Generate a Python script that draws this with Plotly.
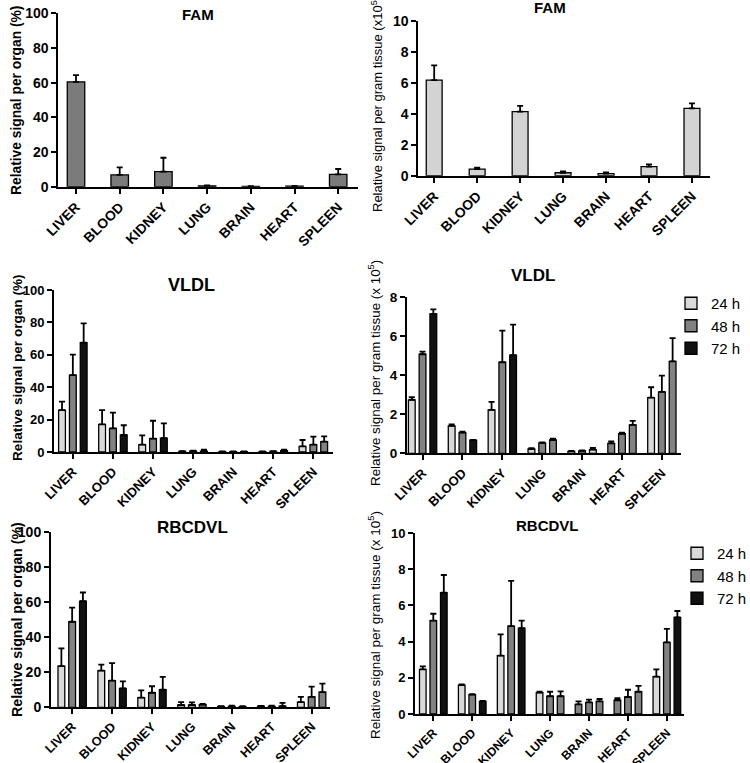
import plotly.graph_objects as go

# ---------------- data ----------------
organs = ["LIVER", "BLOOD", "KIDNEY", "LUNG", "BRAIN", "HEART", "SPLEEN"]
times = ["24 h", "48 h", "72 h"]

fam_organ = [60.5, 6.8, 8.7, 0.5, 0.2, 0.3, 7.1]
fam_organ_sd = [3.9, 4.4, 8.0, 0.3, 0.1, 0.1, 3.1]
fam_gram = [6.17, 0.43, 4.13, 0.19, 0.13, 0.58, 4.34]
fam_gram_sd = [0.95, 0.09, 0.37, 0.09, 0.08, 0.15, 0.33]

vldl_organ_24 = [25.9, 17.1, 4.5, 0.4, 0.2, 0.2, 3.5]
vldl_organ_24_sd = [5.2, 8.8, 5.8, 0.2, 0.1, 0.1, 3.9]
vldl_organ_48 = [47.5, 14.6, 8.2, 0.6, 0.2, 0.4, 4.5]
vldl_organ_48_sd = [12.6, 9.7, 11.1, 0.3, 0.1, 0.2, 5.0]
vldl_organ_72 = [67.5, 10.5, 8.6, 0.5, 0.2, 0.8, 6.4]
vldl_organ_72_sd = [11.9, 6.0, 9.1, 1.0, 0.1, 0.6, 3.3]

vldl_gram_24 = [2.73, 1.40, 2.22, 0.22, 0.10, 0.51, 2.85]
vldl_gram_24_sd = [0.14, 0.08, 0.41, 0.04, 0.02, 0.10, 0.53]
vldl_gram_48 = [5.07, 1.06, 4.66, 0.53, 0.12, 1.00, 3.14]
vldl_gram_48_sd = [0.13, 0.05, 1.62, 0.03, 0.03, 0.06, 0.84]
vldl_gram_72 = [7.13, 0.67, 5.03, 0.68, 0.19, 1.45, 4.71]
vldl_gram_72_sd = [0.24, 0.02, 1.56, 0.07, 0.08, 0.21, 1.18]

rbc_organ_24 = [23.5, 20.9, 5.5, 1.3, 0.5, 0.6, 3.0]
rbc_organ_24_sd = [10.1, 3.4, 4.2, 1.7, 0.2, 0.2, 2.9]
rbc_organ_48 = [48.8, 15.2, 8.3, 1.3, 0.5, 0.5, 5.9]
rbc_organ_48_sd = [8.1, 10.0, 3.7, 1.5, 0.5, 0.5, 5.9]
rbc_organ_72 = [60.5, 10.8, 10.1, 1.5, 0.4, 0.7, 8.7]
rbc_organ_72_sd = [5.0, 4.0, 7.2, 0.4, 0.2, 1.8, 4.8]

rbc_gram_24 = [2.47, 1.60, 3.22, 1.18, 0.53, 0.76, 2.06]
rbc_gram_24_sd = [0.16, 0.04, 1.18, 0.05, 0.17, 0.11, 0.41]
rbc_gram_48 = [5.16, 1.07, 4.86, 0.98, 0.64, 0.94, 3.96]
rbc_gram_48_sd = [0.38, 0.03, 2.49, 0.25, 0.15, 0.40, 0.74]
rbc_gram_72 = [6.70, 0.70, 4.75, 0.98, 0.70, 1.23, 5.34]
rbc_gram_72_sd = [0.98, 0.02, 0.41, 0.27, 0.13, 0.32, 0.35]

# ---------------- styles ----------------
L = "#d9d9d9"
G = "#828282"
K = "#111111"
FONT = "Liberation Sans, Arial, sans-serif"

W, H = 750, 763


def px(x):
    return x / W


def py(y):
    return 1 - y / H


fig = go.Figure()


def add_bar(xa, ya, y, sd, color, center, width, name=None, legend=None):
    fig.add_trace(go.Bar(
        x=organs, y=y, xaxis=xa, yaxis=ya,
        width=width, offset=center - width / 2,
        marker=dict(color=color, line=dict(color="black", width=1.3)),
        error_y=dict(type="data", array=sd, arrayminus=[0] * len(sd), symmetric=False,
                     color="black", thickness=1.8, width=3),
        name=name, showlegend=legend is not None,
        legend=legend if legend else "legend",
    ))


# FAM panels
add_bar("x", "y", fam_organ, fam_organ_sd, ["#7b7b7b"] * 7, 0, 0.40)
add_bar("x2", "y2", fam_gram, fam_gram_sd, ["#d3d3d3"] * 7, 0, 0.37)

pitch, bw = 0.27, 0.17
groups = [
    ("x3", "y3", [vldl_organ_24, vldl_organ_48, vldl_organ_72],
     [vldl_organ_24_sd, vldl_organ_48_sd, vldl_organ_72_sd],
     [[L] * 7, [G] * 7, [K, K, K, G, G, G, G]], None),
    ("x4", "y4", [vldl_gram_24, vldl_gram_48, vldl_gram_72],
     [vldl_gram_24_sd, vldl_gram_48_sd, vldl_gram_72_sd],
     [[L, L, L, L, L, G, L], [G] * 7, [K, K, K, G, L, G, G]], "legend"),
    ("x5", "y5", [rbc_organ_24, rbc_organ_48, rbc_organ_72],
     [rbc_organ_24_sd, rbc_organ_48_sd, rbc_organ_72_sd],
     [[L, L, L, L, G, G, L], [G, G, G, L, G, G, G], [K, K, K, G, K, G, G]], None),
    ("x6", "y6", [rbc_gram_24, rbc_gram_48, rbc_gram_72],
     [rbc_gram_24_sd, rbc_gram_48_sd, rbc_gram_72_sd],
     [[L, L, L, L, G, G, L], [G] * 7, [K, K, K, G, G, G, K]], "legend2"),
]
for xa, ya, ys, sds, cols, leg in groups:
    for i in range(3):
        add_bar(xa, ya, ys[i], sds[i], cols[i], (i - 1) * pitch, bw,
                name=times[i], legend=leg)

# ---------------- axes ----------------
# (x0px, x1px, ybottom px, ytop px, xrange, yrange, dtick, ytickfs, xtickfs)
panels = [
    (58.3, 358.3, 186.7, 13.3, [-0.405, 6.46], [0, 100], 20, 14, 13.8),
    (418.3, 710, 175.7, 20.7, [-0.37, 6.42], [0, 10], 2, 14, 13.9),
    (54, 333, 452, 290, [-0.47, 6.49], [0, 100], 20, 13, 13.1),
    (407, 681, 453.3, 297, [-0.39, 6.48], [0, 8], 2, 13.5, 13),
    (51, 330, 707.3, 532, [-0.53, 6.46], [0, 100], 20, 14, 12.6),
    (415, 684, 714, 533, [-0.47, 6.44], [0, 10], 2, 13, 12.1),
]
layout = {}
for k, (x0, x1, yb, yt, xr, yr, dt, yfs, xfs) in enumerate(panels):
    sfx = "" if k == 0 else str(k + 1)
    layout["xaxis" + sfx] = dict(
        domain=[px(x0), px(x1)], range=xr, anchor="y" + sfx, automargin=False,
        type="category", showline=True, linecolor="black", linewidth=2,
        ticks="outside", ticklen=5, tickwidth=2, tickcolor="black",
        tickangle=-45, showgrid=False, zeroline=False,
        tickfont=dict(family=FONT, size=xfs, color="black", weight="bold"),
    )
    layout["yaxis" + sfx] = dict(
        domain=[py(yb), py(yt)], range=yr, anchor="x" + sfx, dtick=dt, automargin=False,
        showline=True, linecolor="black", linewidth=2,
        ticks="outside", ticklen=5, tickwidth=2, tickcolor="black",
        showgrid=False, zeroline=False,
        tickfont=dict(family=FONT, size=yfs, color="black", weight="bold"),
    )

annotations = []


def ann(text, x, y, size, bold=True, angle=0):
    annotations.append(dict(
        text=text, x=px(x), y=py(y), xref="paper", yref="paper",
        xanchor="center", yanchor="middle", showarrow=False, textangle=angle,
        font=dict(family=FONT, size=size, color="black",
                  weight="bold" if bold else "normal"),
    ))


ann("FAM", 198, 14, 15)
ann("FAM", 550, 8, 15)
ann("VLDL", 191, 285, 18)
ann("VLDL", 533, 275, 17)
ann("RBCDVL", 192, 527, 17)
ann("RBCDVL", 547, 525, 15)

ann("Relative signal per organ (%)", 17, 101, 13.8, True, -90)
ann("Relative signal per organ (%)", 17, 368, 13.6, True, -90)
ann("Relative signal per organ (%)", 17, 620, 14.2, True, -90)
ann("Relative signal per gram tissue (x10<sup>5</sup>)", 377, 104, 13, False, -90)
ann("Relative signal per gram tissue (x 10<sup>5</sup>)", 374, 373, 13.4, False, -90)
ann("Relative signal per gram tissue (x 10<sup>5</sup>)", 374, 625, 13.5, False, -90)

fig.update_layout(
    width=W, height=H, margin=dict(l=0, r=0, t=0, b=0, autoexpand=False),
    paper_bgcolor="white", plot_bgcolor="white", barmode="overlay",
    annotations=annotations,
    legend=dict(x=px(671), y=py(287), xanchor="left", yanchor="top",
                font=dict(family=FONT, size=15, color="black"), itemwidth=30,
                bgcolor="rgba(0,0,0,0)", tracegroupgap=0),
    legend2=dict(x=px(677), y=py(537), xanchor="left", yanchor="top",
                 font=dict(family=FONT, size=15, color="black"), itemwidth=30,
                 bgcolor="rgba(0,0,0,0)", tracegroupgap=0),
    **layout,
)

fig.write_html("out.html", config={"displayModeBar": False},
               post_script="document.body.style.margin='0';")
